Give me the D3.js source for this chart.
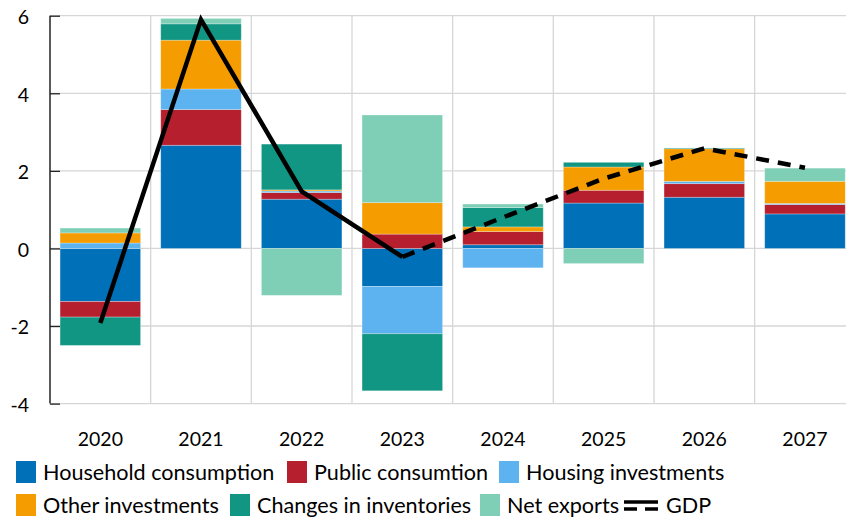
<!DOCTYPE html>
<html><head><meta charset="utf-8">
<script src="https://cdn.jsdelivr.net/npm/d3@7"></script>
<style>
html,body{margin:0;padding:0;background:#fff;overflow:hidden}
svg{display:block;font-family:Lato,"Open Sans",sans-serif}
</style></head>
<body><svg id="c" width="846" height="518"></svg>
<script>
const years = ["2020","2021","2022","2023","2024","2025","2026","2027"];
const household   = [-1.37, 2.66, 1.27, -0.98, 0.095, 1.17, 1.32, 0.89];
const publicCons  = [-0.40, 0.92, 0.17,  0.37, 0.34,  0.33, 0.35, 0.24];
const housing     = [ 0.14, 0.53, 0.04, -1.22, -0.50, 0.00, 0.06, 0.03];
const otherInv    = [ 0.26, 1.26, 0.03,  0.81, 0.12,  0.60, 0.84, 0.57];
const inventories = [-0.73, 0.42, 1.18, -1.47, 0.50,  0.12, 0.02, 0.00];
const netExports  = [ 0.125,0.14,-1.21,  2.26, 0.09, -0.39, 0.00, 0.34];
const gdp         = [-1.92, 5.90, 1.47, -0.22, 0.80,  1.80, 2.58, 2.08];
const yTicks = [-4,-2,0,2,4,6];
const yTickLabels = ["-4","-2","0","2","4","6"];
const seriesNames = ["Household consumption","Public consumtion","Housing investments","Other investments","Changes in inventories","Net exports"];
const seriesColors = ["#0070b8","#b51f2e","#5db3f0","#f59c00","#109682","#7ecfb6"];
const seriesVals = [household, publicCons, housing, otherInv, inventories, netExports];

const svg = d3.select("#c");
const pL = 50, pR = 855.3, pT = 15.7, pB = 403.6;
const x = d3.scaleBand().domain(years).range([pL, pR]).paddingInner(0.2).paddingOuter(0.1);
const y = d3.scaleLinear().domain([-4, 6]).range([pB, pT]);

// gridlines
const grid = svg.append("g");
grid.selectAll("line.h").data(yTicks).join("line")
  .attr("x1", pL).attr("x2", pR)
  .attr("y1", d => y(d)).attr("y2", d => y(d))
  .attr("stroke", "#d6d6d6").attr("stroke-width", 1.3);
const step = x.step();
grid.selectAll("line.v").data(years.slice(1)).join("line")
  .attr("x1", d => x(d) - step*0.1).attr("x2", d => x(d) - step*0.1)
  .attr("y1", pT).attr("y2", pB)
  .attr("stroke", "#d6d6d6").attr("stroke-width", 1.3);

// stacked bars
const table = years.map((yr, i) => {
  const o = {year: yr};
  seriesNames.forEach((n, k) => o[n] = seriesVals[k][i]);
  return o;
});
const stack = d3.stack().keys(seriesNames).offset(d3.stackOffsetDiverging)(table);
svg.append("g").selectAll("g").data(stack).join("g")
  .attr("fill", (d, k) => seriesColors[k])
  .selectAll("rect").data(d => d).join("rect")
  .attr("x", d => x(d.data.year))
  .attr("width", x.bandwidth())
  .attr("y", d => y(Math.max(d[0], d[1])))
  .attr("height", d => Math.abs(y(d[0]) - y(d[1])))
  .attr("stroke", "rgba(255,255,255,0.35)").attr("stroke-width", 0.8);

// left axis
const ax = svg.append("g").attr("transform", `translate(${pL},0)`)
  .call(d3.axisLeft(y).tickValues(yTicks).tickSize(-10).tickPadding(21)
    .tickFormat((d, i) => yTickLabels[i]));
ax.select(".domain").attr("stroke", "#000").attr("stroke-width", 1.3).attr("d", `M0,${pT}V${pB}`);
ax.selectAll(".tick line").attr("stroke", "#222").attr("stroke-width", 1.3);
ax.selectAll(".tick text").attr("font-size", 19.5).attr("fill", "#000").attr("dy", "0.4em").attr("font-family", "Lato");

// x labels
svg.append("g").selectAll("text").data(years).join("text")
  .attr("x", d => x(d) + x.bandwidth()/2).attr("y", 445.7)
  .attr("text-anchor", "middle").attr("font-size", 19.5).attr("fill", "#000")
  .text(d => d);

// GDP line
const cx = i => x(years[i]) + x.bandwidth()/2;
const line = d3.line().x(d => cx(d.i)).y(d => y(d.v));
const pts = gdp.map((v, i) => ({i, v}));
svg.append("path").datum(pts.slice(0, 4)).attr("d", line)
  .attr("fill", "none").attr("stroke", "#000").attr("stroke-width", 4.5).attr("stroke-linejoin", "miter");
svg.append("path").datum(pts.slice(3)).attr("d", line)
  .attr("fill", "none").attr("stroke", "#000").attr("stroke-width", 4.5)
  .attr("stroke-dasharray", "13,9").attr("stroke-linejoin", "miter");

// legend
const legendItems = [
  {row:0, x:16, name:seriesNames[0], color:seriesColors[0]},
  {row:0, x:287, name:seriesNames[1], color:seriesColors[1]},
  {row:0, x:499, name:seriesNames[2], color:seriesColors[2]},
  {row:1, x:16, name:seriesNames[3], color:seriesColors[3]},
  {row:1, x:230, name:seriesNames[4], color:seriesColors[4]},
  {row:1, x:480, name:seriesNames[5], color:seriesColors[5]}
];
const rowY = [472, 505];
const lg = svg.append("g");
legendItems.forEach(it => {
  lg.append("rect").attr("x", it.x).attr("y", rowY[it.row] - 11).attr("width", 20).attr("height", 22).attr("fill", it.color);
  lg.append("text").attr("x", it.x + 27).attr("y", rowY[it.row] + 7.5).attr("font-size", 21.6).attr("fill", "#000").text(it.name);
});
lg.append("line").attr("x1", 624).attr("x2", 658).attr("y1", rowY[1]-3).attr("y2", rowY[1]-3).attr("stroke", "#000").attr("stroke-width", 3.5);
lg.append("line").attr("x1", 624).attr("x2", 658).attr("y1", rowY[1]+4).attr("y2", rowY[1]+4).attr("stroke", "#000").attr("stroke-width", 3.5).attr("stroke-dasharray", "13,8");
lg.append("text").attr("x", 666).attr("y", rowY[1] + 7.5).attr("font-size", 21.6).attr("fill", "#000").text("GDP");
</script></body></html>
